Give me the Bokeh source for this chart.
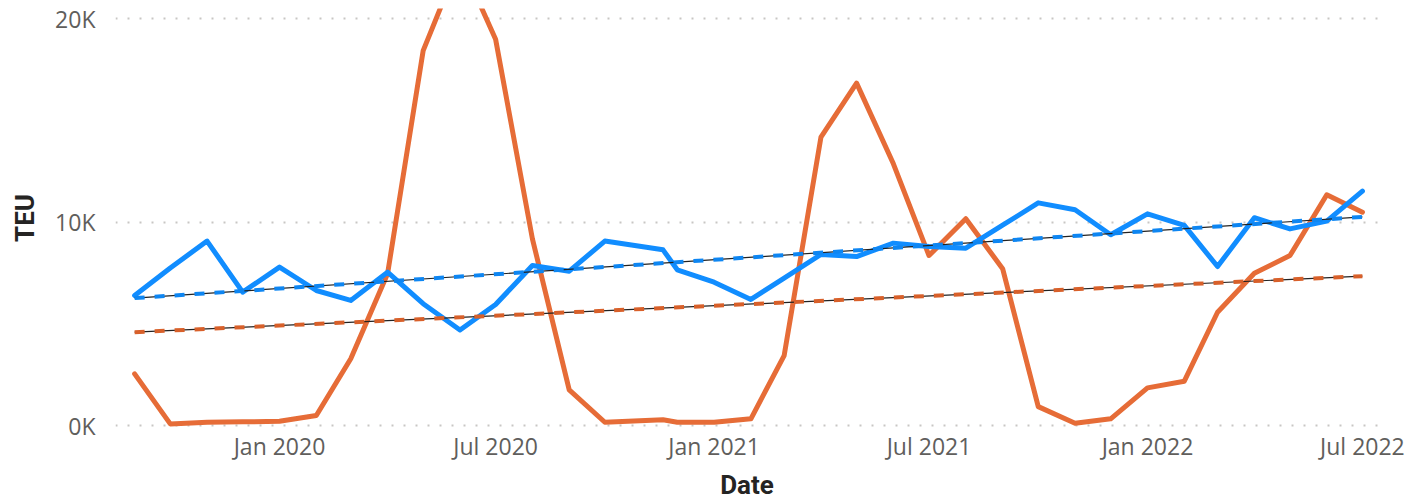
import numpy as np
import pandas as pd
from bokeh.plotting import figure
from bokeh.models import Range1d, FixedTicker, CustomJSTickFormatter, ColumnDataSource
from bokeh.embed import file_html
from bokeh.resources import INLINE

# ---- data (TEU) ----
dates = ["2019-09-01", "2019-10-01", "2019-11-01", "2019-12-01",
         "2020-01-01", "2020-02-01", "2020-03-01", "2020-04-01", "2020-05-01", "2020-06-01",
         "2020-07-01", "2020-08-01", "2020-09-01", "2020-10-01", "2020-11-19", "2020-12-01",
         "2021-01-01", "2021-02-01", "2021-03-01", "2021-04-01", "2021-05-01", "2021-06-01",
         "2021-07-01", "2021-08-01", "2021-09-01", "2021-10-01", "2021-11-01", "2021-12-01",
         "2022-01-01", "2022-02-01", "2022-03-01", "2022-04-01", "2022-05-01", "2022-06-01",
         "2022-07-01"]
blue_teu = [6390, 7750, 9070, 6560, 7790, 6640, 6150, 7540, 5990, 4700,
            5950, 7870, 7590, 9070, 8640, 7660, 7050, 6200, 7250, 8410,
            8310, 8970, 8800, 8720, 9850, 10950, 10610, 9380, 10410, 9840,
            7820, 10220, 9670, 10050, 11530]
orange_teu = [2540, 80, 160, 180, 210, 490, 3280, 7460, 18440, 22900,
              19000, 9180, 1750, 160, 280, 160, 160, 330, 3440, 14180,
              16840, 12870, 8360, 10170, 7710, 930, 110, 330, 1850, 2180,
              5570, 7490, 8360, 11350, 10490]
y_ticks = [0, 10000, 20000]
x_tick_dates = ["2020-01-01", "2020-07-01", "2021-01-01", "2021-07-01", "2022-01-01", "2022-07-01"]

BLUE = "#118DFF"
ORANGE = "#E66C37"
BLUE_TREND = "#0E86F2"
ORANGE_TREND = "#D8602A"

x = pd.to_datetime(dates)
xms = x.astype("int64") // 10**6  # ms

def trend(vals):
    xs = np.asarray(xms, dtype=float)
    k, b = np.polyfit(xs, np.asarray(vals, dtype=float), 1)
    ends = np.array([xs.min(), xs.max()])
    return pd.to_datetime(ends, unit="ms"), k * ends + b

t0 = pd.Timestamp("2020-01-01")
px_per_day = 1.1874
x_start = t0 - pd.Timedelta(days=164 / px_per_day)
x_end = t0 + pd.Timedelta(days=1099 / px_per_day)

p = figure(x_axis_type="datetime", output_backend="svg", toolbar_location=None,
           frame_width=1263, frame_height=419,
           x_range=Range1d(x_start, x_end), y_range=Range1d(-98, 20510))
p.min_border_left = 115
p.min_border_right = 27
p.min_border_top = 8
p.min_border_bottom = 70
p.outline_line_color = None
p.background_fill_color = "white"
p.border_fill_color = "white"

# grid
p.xgrid.grid_line_color = None
p.ygrid.grid_line_color = "#C8C6C4"
p.ygrid.grid_line_width = 2
p.ygrid.grid_line_dash = "2 10"

font = "Open Sans"
title_font = "Roboto"
for ax in (p.xaxis, p.yaxis):
    ax.axis_line_color = None
    ax.major_tick_line_color = None
    ax.minor_tick_line_color = None
    ax.major_tick_out = 0
    ax.major_tick_in = 0
    ax.minor_tick_out = 0
    ax.minor_tick_in = 0
    ax.major_label_text_font = font
    ax.major_label_text_font_size = "23px"
    ax.major_label_text_color = "#605E5C"
    ax.axis_label_text_font = title_font
    ax.axis_label_text_font_style = "bold"
    ax.axis_label_text_font_size = "26px"
    ax.axis_label_text_color = "#252423"

# y axis
p.yaxis.ticker = FixedTicker(ticks=y_ticks)
p.yaxis.formatter = CustomJSTickFormatter(code="return (tick/1000).toFixed(0) + 'K';")
p.yaxis.major_label_standoff = 20
p.yaxis.axis_label = "TEU"
p.yaxis.axis_label_standoff = 12

# x axis
p.xaxis.ticker = FixedTicker(ticks=[int(v) for v in (pd.to_datetime(x_tick_dates).astype("int64") // 10**6)])
p.xaxis.formatter = CustomJSTickFormatter(code="""
const m = ['Jan','Feb','Mar','Apr','May','Jun','Jul','Aug','Sep','Oct','Nov','Dec'];
const d = new Date(tick);
return m[d.getUTCMonth()] + ' ' + d.getUTCFullYear();
""")
p.xaxis.major_label_standoff = 2
p.xaxis.axis_label = "Date"
p.xaxis.axis_label_standoff = 5

src = ColumnDataSource(dict(x=x, blue=blue_teu, orange=orange_teu))

p.line("x", "orange", source=src, line_color=ORANGE, line_width=5, line_join="round", line_cap="round")
p.line("x", "blue", source=src, line_color=BLUE, line_width=5, line_join="round", line_cap="round")

for vals, col in ((blue_teu, BLUE_TREND), (orange_teu, ORANGE_TREND)):
    tx, ty = trend(vals)
    p.line(tx, ty, line_color="#222222", line_width=1.2)
    p.line(tx, ty, line_color=col, line_width=4, line_dash="10 10")

open("out.html", "w").write(file_html(p, INLINE))
